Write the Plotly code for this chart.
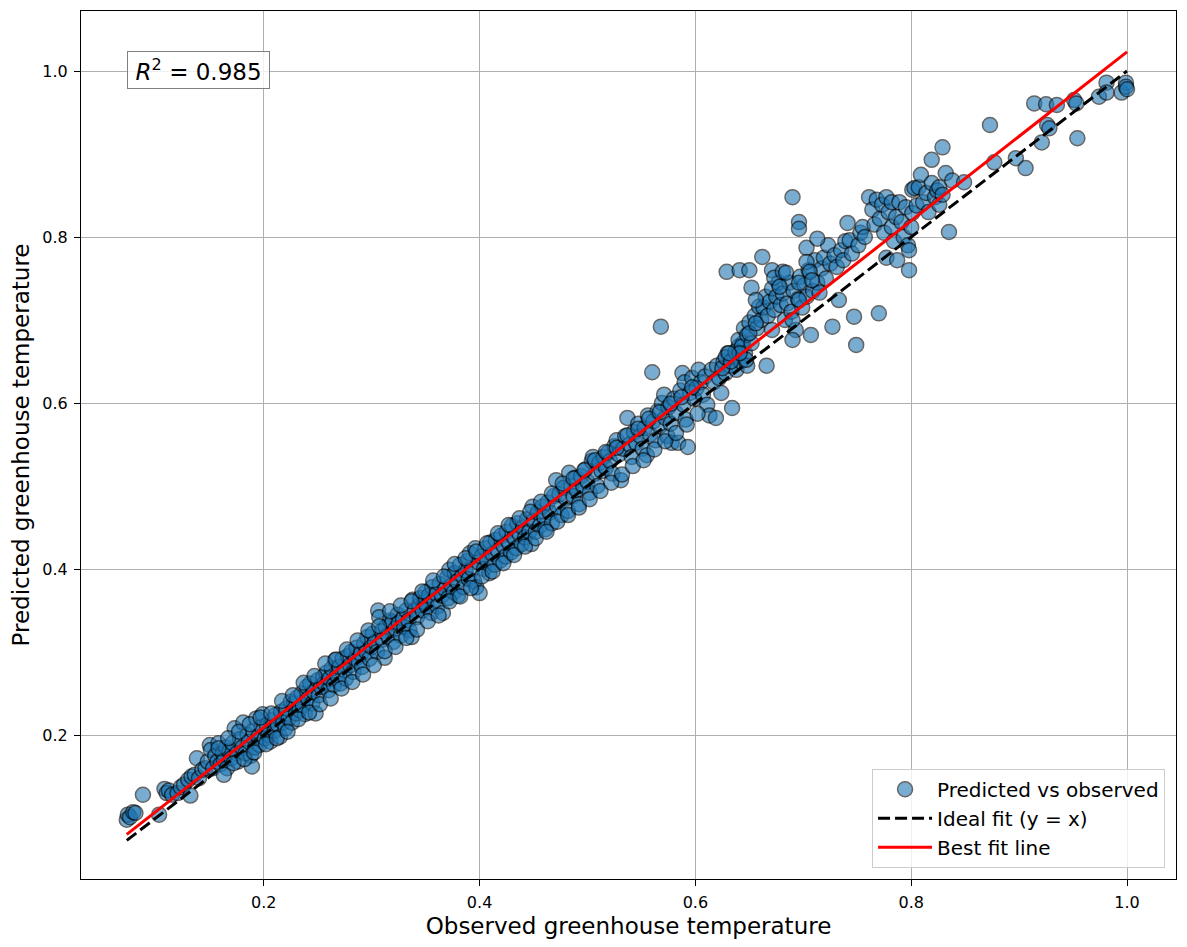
import numpy as np
import plotly.graph_objects as go

# points, (observed, predicted), grouped by observed range
pts_low = [(0.073, 0.098), (0.074, 0.104), (0.076, 0.101), (0.079, 0.107), (0.081, 0.106),
           (0.088, 0.128), (0.103, 0.104), (0.108, 0.135), (0.110, 0.130), (0.112, 0.133),
           (0.115, 0.128), (0.120, 0.130), (0.123, 0.137), (0.126, 0.140), (0.130, 0.146),
           (0.132, 0.127), (0.133, 0.150), (0.136, 0.152), (0.138, 0.172), (0.140, 0.148),
           (0.143, 0.158), (0.146, 0.160), (0.148, 0.168)]

pts_a = [(0.150, 0.188), (0.151, 0.182), (0.153, 0.160), (0.155, 0.175), (0.157, 0.168),
         (0.158, 0.190), (0.160, 0.165), (0.162, 0.178), (0.163, 0.170), (0.165, 0.185),
         (0.166, 0.160), (0.168, 0.180), (0.170, 0.172), (0.171, 0.190), (0.173, 0.208),
         (0.175, 0.178), (0.176, 0.168), (0.178, 0.195), (0.180, 0.185), (0.181, 0.215),
         (0.183, 0.178), (0.185, 0.200), (0.186, 0.192), (0.188, 0.175), (0.189, 0.162),
         (0.190, 0.205), (0.192, 0.185), (0.193, 0.220), (0.195, 0.198), (0.196, 0.188),
         (0.198, 0.210), (0.199, 0.225), (0.201, 0.196), (0.203, 0.212), (0.204, 0.200),
         (0.206, 0.192), (0.208, 0.218), (0.210, 0.205), (0.211, 0.224), (0.213, 0.212),
         (0.215, 0.198), (0.216, 0.228), (0.218, 0.215), (0.220, 0.208), (0.221, 0.232),
         (0.223, 0.220), (0.225, 0.240), (0.226, 0.215), (0.228, 0.238), (0.230, 0.226),
         (0.231, 0.245), (0.233, 0.230), (0.235, 0.250), (0.236, 0.236), (0.238, 0.225),
         (0.240, 0.258), (0.241, 0.244), (0.243, 0.262), (0.245, 0.238), (0.246, 0.252),
         (0.248, 0.226), (0.250, 0.266)]

pts_b = [(0.251, 0.248), (0.253, 0.258), (0.255, 0.270), (0.256, 0.262), (0.258, 0.275),
         (0.260, 0.254), (0.261, 0.268), (0.263, 0.280), (0.265, 0.260), (0.266, 0.290),
         (0.268, 0.272), (0.270, 0.282), (0.271, 0.262), (0.273, 0.292), (0.275, 0.278),
         (0.276, 0.268), (0.278, 0.295), (0.280, 0.284), (0.281, 0.300), (0.283, 0.276),
         (0.285, 0.292), (0.286, 0.305), (0.288, 0.288), (0.290, 0.298), (0.291, 0.282),
         (0.293, 0.310), (0.295, 0.300), (0.296, 0.318), (0.298, 0.292), (0.300, 0.306),
         (0.301, 0.322), (0.303, 0.312), (0.305, 0.300), (0.306, 0.350), (0.307, 0.342),
         (0.309, 0.325), (0.310, 0.315), (0.312, 0.293), (0.313, 0.330), (0.315, 0.320),
         (0.317, 0.338), (0.319, 0.336), (0.320, 0.312), (0.322, 0.328), (0.324, 0.345),
         (0.325, 0.335), (0.327, 0.320), (0.329, 0.340), (0.330, 0.330), (0.332, 0.350),
         (0.334, 0.338), (0.335, 0.326), (0.337, 0.318), (0.338, 0.363), (0.340, 0.350),
         (0.342, 0.342), (0.344, 0.356), (0.345, 0.365), (0.347, 0.350), (0.349, 0.360)]

pts_c = [(0.350, 0.372), (0.351, 0.355), (0.353, 0.368), (0.355, 0.347), (0.356, 0.378),
         (0.358, 0.362), (0.360, 0.370), (0.361, 0.355), (0.363, 0.382), (0.365, 0.368),
         (0.366, 0.347), (0.368, 0.376), (0.370, 0.390), (0.371, 0.365), (0.372, 0.399),
         (0.374, 0.380), (0.376, 0.372), (0.377, 0.395), (0.379, 0.385), (0.380, 0.368),
         (0.382, 0.405), (0.384, 0.392), (0.385, 0.378), (0.387, 0.398), (0.389, 0.410),
         (0.390, 0.388), (0.391, 0.419), (0.393, 0.400), (0.395, 0.385), (0.396, 0.425),
         (0.397, 0.378), (0.399, 0.408), (0.400, 0.371), (0.402, 0.415), (0.404, 0.400),
         (0.405, 0.425), (0.407, 0.410), (0.409, 0.395), (0.410, 0.432), (0.412, 0.418),
         (0.414, 0.405), (0.415, 0.435), (0.417, 0.422), (0.419, 0.410), (0.420, 0.440),
         (0.422, 0.428), (0.424, 0.415), (0.425, 0.445), (0.427, 0.432), (0.429, 0.420),
         (0.430, 0.452), (0.432, 0.438), (0.434, 0.425), (0.435, 0.455), (0.437, 0.442),
         (0.439, 0.430), (0.440, 0.450), (0.442, 0.438), (0.444, 0.460), (0.446, 0.445),
         (0.448, 0.430), (0.449, 0.475)]

pts_d = [(0.450, 0.458), (0.452, 0.445), (0.454, 0.468), (0.456, 0.452), (0.458, 0.475),
         (0.460, 0.462), (0.461, 0.448), (0.463, 0.480), (0.465, 0.468), (0.467, 0.455),
         (0.469, 0.488), (0.471, 0.507), (0.472, 0.475), (0.474, 0.490), (0.476, 0.465),
         (0.478, 0.498), (0.480, 0.485), (0.482, 0.470), (0.483, 0.516), (0.485, 0.500),
         (0.487, 0.488), (0.489, 0.510), (0.490, 0.495), (0.492, 0.478), (0.494, 0.512),
         (0.496, 0.500), (0.498, 0.520), (0.500, 0.505), (0.502, 0.492), (0.504, 0.530),
         (0.505, 0.535), (0.507, 0.515), (0.509, 0.500), (0.511, 0.528), (0.513, 0.518),
         (0.515, 0.535), (0.517, 0.522), (0.519, 0.540), (0.521, 0.530), (0.523, 0.515),
         (0.525, 0.548), (0.527, 0.555), (0.529, 0.538), (0.531, 0.507), (0.533, 0.545),
         (0.535, 0.560), (0.537, 0.582), (0.539, 0.550), (0.541, 0.535), (0.543, 0.565),
         (0.545, 0.552), (0.547, 0.575), (0.549, 0.560)]

pts_e = [(0.551, 0.545), (0.553, 0.570), (0.555, 0.537), (0.556, 0.585), (0.558, 0.562),
         (0.560, 0.637), (0.561, 0.578), (0.563, 0.555), (0.565, 0.590), (0.567, 0.572),
         (0.568, 0.692), (0.569, 0.600), (0.571, 0.610), (0.572, 0.582), (0.574, 0.560),
         (0.575, 0.595), (0.577, 0.575), (0.578, 0.552), (0.580, 0.605), (0.582, 0.588),
         (0.584, 0.552), (0.586, 0.615), (0.588, 0.636), (0.589, 0.598), (0.590, 0.625),
         (0.591, 0.580), (0.593, 0.547), (0.595, 0.612), (0.597, 0.630), (0.599, 0.605),
         (0.601, 0.618), (0.603, 0.640), (0.605, 0.625), (0.607, 0.610), (0.609, 0.632),
         (0.611, 0.598), (0.613, 0.585), (0.615, 0.640), (0.617, 0.625), (0.619, 0.582),
         (0.620, 0.645), (0.622, 0.630), (0.624, 0.612), (0.626, 0.650), (0.628, 0.636),
         (0.630, 0.660), (0.632, 0.645), (0.634, 0.594), (0.636, 0.655), (0.638, 0.640),
         (0.640, 0.668), (0.642, 0.650), (0.644, 0.672), (0.646, 0.660), (0.648, 0.645)]

pts_f = [(0.625, 0.642), (0.628, 0.655), (0.633, 0.650), (0.637, 0.662), (0.640, 0.676),
         (0.643, 0.668), (0.645, 0.690), (0.648, 0.682), (0.650, 0.697), (0.652, 0.672),
         (0.655, 0.705), (0.657, 0.690), (0.659, 0.716), (0.661, 0.700), (0.663, 0.715),
         (0.665, 0.728), (0.667, 0.705), (0.669, 0.722), (0.671, 0.738), (0.673, 0.712),
         (0.675, 0.728), (0.677, 0.745), (0.679, 0.718), (0.681, 0.732), (0.683, 0.700),
         (0.685, 0.720), (0.687, 0.745), (0.689, 0.710), (0.691, 0.735), (0.693, 0.688),
         (0.695, 0.725), (0.697, 0.752), (0.699, 0.715), (0.701, 0.742), (0.703, 0.728),
         (0.705, 0.760), (0.707, 0.682), (0.709, 0.735), (0.711, 0.772), (0.713, 0.745),
         (0.715, 0.733), (0.717, 0.762), (0.719, 0.775), (0.721, 0.750), (0.723, 0.790),
         (0.725, 0.768), (0.727, 0.692), (0.729, 0.778), (0.731, 0.764), (0.733, 0.724),
         (0.735, 0.784), (0.737, 0.772), (0.739, 0.795), (0.741, 0.817), (0.743, 0.796),
         (0.745, 0.780), (0.747, 0.704), (0.749, 0.670), (0.751, 0.790), (0.753, 0.805),
         (0.755, 0.812), (0.757, 0.800)]

# the loose cloud above the band around 0.63-0.71
pts_spread = [(0.629, 0.758), (0.641, 0.760), (0.650, 0.760), (0.662, 0.776), (0.671, 0.760),
              (0.673, 0.751), (0.681, 0.758), (0.652, 0.739), (0.656, 0.724), (0.678, 0.740),
              (0.690, 0.848), (0.696, 0.818), (0.696, 0.810), (0.703, 0.787), (0.703, 0.770),
              (0.713, 0.798), (0.666, 0.645), (0.647, 0.652), (0.641, 0.660), (0.631, 0.660),
              (0.650, 0.684), (0.656, 0.696), (0.671, 0.688), (0.690, 0.676), (0.690, 0.700),
              (0.696, 0.724), (0.696, 0.745), (0.684, 0.757), (0.706, 0.758), (0.708, 0.748)]

# extra points on both edges of the dense band
pts_edges = [(0.158, 0.184), (0.163, 0.152), (0.167, 0.196), (0.172, 0.166), (0.177, 0.204),
             (0.182, 0.171), (0.187, 0.213), (0.191, 0.179), (0.197, 0.221), (0.202, 0.189),
             (0.207, 0.226), (0.212, 0.196), (0.217, 0.241), (0.222, 0.204), (0.227, 0.248),
             (0.232, 0.219), (0.237, 0.263), (0.242, 0.227), (0.247, 0.271), (0.252, 0.237),
             (0.257, 0.286), (0.262, 0.244), (0.267, 0.291), (0.272, 0.256), (0.277, 0.303),
             (0.282, 0.264), (0.287, 0.314), (0.292, 0.273), (0.297, 0.326), (0.302, 0.284),
             (0.307, 0.331), (0.312, 0.301), (0.317, 0.349), (0.322, 0.306), (0.327, 0.356),
             (0.332, 0.317), (0.337, 0.361), (0.342, 0.327), (0.347, 0.373), (0.352, 0.337),
             (0.357, 0.386), (0.362, 0.344), (0.367, 0.391), (0.372, 0.361), (0.377, 0.406),
             (0.382, 0.367), (0.387, 0.413), (0.392, 0.377), (0.397, 0.421), (0.402, 0.391),
             (0.407, 0.431), (0.412, 0.397), (0.417, 0.443), (0.422, 0.407), (0.427, 0.453),
             (0.432, 0.417), (0.437, 0.461), (0.442, 0.427), (0.447, 0.469), (0.452, 0.437),
             (0.457, 0.481), (0.462, 0.445), (0.467, 0.491), (0.472, 0.457), (0.477, 0.503),
             (0.482, 0.465), (0.487, 0.509), (0.492, 0.474), (0.497, 0.519), (0.502, 0.484),
             (0.507, 0.531), (0.512, 0.494), (0.517, 0.541), (0.522, 0.504), (0.527, 0.546),
             (0.532, 0.514), (0.537, 0.561), (0.542, 0.524), (0.547, 0.569), (0.552, 0.531),
             (0.557, 0.581), (0.562, 0.544), (0.567, 0.589), (0.572, 0.554), (0.577, 0.599),
             (0.582, 0.564), (0.587, 0.607), (0.592, 0.574), (0.597, 0.619), (0.602, 0.587)]

pts_g = [(0.761, 0.848), (0.764, 0.833), (0.766, 0.815), (0.768, 0.845), (0.770, 0.708),
         (0.771, 0.822), (0.773, 0.839), (0.775, 0.805), (0.777, 0.848), (0.777, 0.775),
         (0.779, 0.830), (0.782, 0.842), (0.782, 0.812), (0.784, 0.795), (0.786, 0.824),
         (0.787, 0.772), (0.789, 0.842), (0.791, 0.818), (0.793, 0.800), (0.795, 0.836),
         (0.797, 0.790), (0.798, 0.760), (0.798, 0.784), (0.800, 0.812), (0.801, 0.829),
         (0.801, 0.857), (0.803, 0.859), (0.805, 0.838), (0.807, 0.860), (0.809, 0.875),
         (0.811, 0.842), (0.814, 0.853), (0.816, 0.830), (0.819, 0.865), (0.819, 0.893),
         (0.822, 0.848), (0.824, 0.856), (0.826, 0.839), (0.826, 0.860), (0.829, 0.908),
         (0.829, 0.851), (0.832, 0.877), (0.835, 0.806), (0.838, 0.868), (0.849, 0.866)]

pts_high = [(0.873, 0.935), (0.877, 0.890), (0.897, 0.895), (0.906, 0.883), (0.914, 0.961),
            (0.921, 0.914), (0.925, 0.960), (0.926, 0.935), (0.928, 0.931), (0.935, 0.959),
            (0.951, 0.965), (0.953, 0.961), (0.954, 0.919), (0.974, 0.969), (0.981, 0.986),
            (0.981, 0.974), (0.995, 0.974), (0.999, 0.986), (0.999, 0.981), (1.000, 0.978)]

# fit line and score
fit_slope = 1.017
fit_intercept = 0.006
r2_label = "0.985"

pts = np.array(pts_low + pts_a + pts_b + pts_c + pts_d + pts_e + pts_f
               + pts_spread + pts_edges + pts_g + pts_high)
observed = pts[:, 0]
predicted = pts[:, 1]

x_line = np.array([observed.min(), observed.max()])

fig = go.Figure()
fig.add_trace(go.Scatter(
    x=observed, y=predicted, mode="markers", name="Predicted vs observed",
    marker=dict(size=15, color="#1f77b4", opacity=0.6,
                line=dict(color="black", width=1.5))))
fig.add_trace(go.Scatter(
    x=x_line, y=x_line, mode="lines", name="Ideal fit (y = x)",
    line=dict(color="black", width=3, dash="12px,5px")))
fig.add_trace(go.Scatter(
    x=x_line, y=fit_slope * x_line + fit_intercept, mode="lines", name="Best fit line",
    line=dict(color="red", width=3)))

axis_style = dict(
    showline=True, linecolor="black", linewidth=1, mirror=True,
    showgrid=True, gridcolor="#b0b0b0", gridwidth=1,
    ticks="outside", ticklen=6, tickcolor="black", ticklabelstandoff=3,
    tickfont=dict(size=16, color="black"), zeroline=False, automargin=False,
    tickvals=[0.2, 0.4, 0.6, 0.8, 1.0], ticktext=["0.2", "0.4", "0.6", "0.8", "1.0"])

# page body adds 8px on the left/top, so the figure is 8px smaller
fig.update_layout(
    width=1179, height=939,
    margin=dict(l=73, r=11, t=3, b=68),
    paper_bgcolor="white", plot_bgcolor="white",
    font=dict(family="DejaVu Sans", color="black"),
    xaxis=dict(axis_style, range=[0.0306, 1.0454],
               title=dict(text="Observed greenhouse temperature", font=dict(size=23), standoff=6)),
    yaxis=dict(axis_style, range=[0.0265, 1.0723],
               title=dict(text="Predicted greenhouse temperature", font=dict(size=23), standoff=10)),
    legend=dict(x=0.990, y=0.013, xanchor="right", yanchor="bottom",
                bgcolor="rgba(255,255,255,0.8)", bordercolor="#cccccc", borderwidth=1,
                font=dict(size=20), itemwidth=54, tracegroupgap=0),
    showlegend=True,
)

fig.add_annotation(
    xref="paper", yref="paper", x=0.042, y=0.932, xanchor="left", yanchor="middle",
    text="\u2009<i>R</i><sup>2</sup> = " + r2_label + "\u2009", showarrow=False,
    font=dict(size=23, color="black"),
    bgcolor="rgba(255,255,255,0.8)", bordercolor="#808080", borderwidth=1, borderpad=3)

fig.write_html("out.html")
